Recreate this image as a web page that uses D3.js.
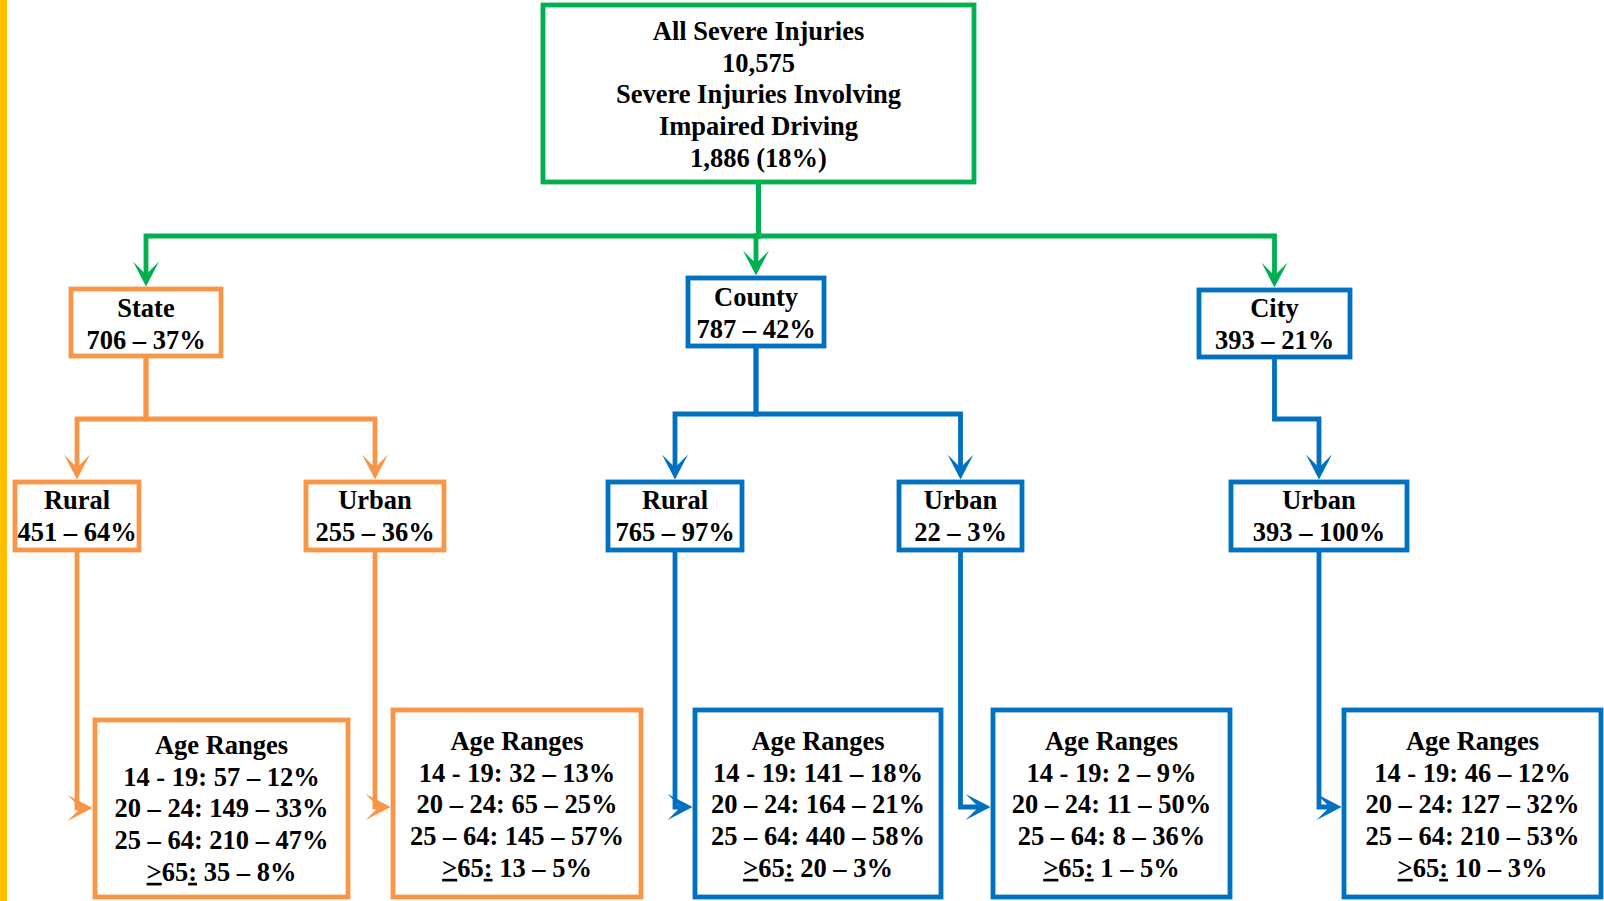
<!DOCTYPE html>
<html>
<head>
<meta charset="utf-8">
<script src="https://cdn.jsdelivr.net/npm/d3@7"></script>
<style>
  body { margin: 0; background: #fff; }
  svg { display: block; }
  text { font-family: "Liberation Serif", "Times New Roman", serif; font-weight: bold; font-size: 26.5px; fill: #000; }
</style>
</head>
<body>
<svg id="chart" width="1604" height="901"></svg>
<script>
// data
const topLines = ["All Severe Injuries", "10,575", "Severe Injuries Involving", "Impaired Driving", "1,886 (18%)"];
const jurisdictions = ["State", "County", "City"];
const jurisdictionCounts = [706, 787, 393];
const jurisdictionPcts = [37, 42, 21];
const areaParents = [0, 0, 1, 1, 2];
const areaNames = ["Rural", "Urban", "Rural", "Urban", "Urban"];
const areaCounts = [451, 255, 765, 22, 393];
const areaPcts = [64, 36, 97, 3, 100];
const ageTitle = "Age Ranges";
const ageRanges = ["14 - 19", "20 – 24", "25 – 64", ">65"];
const ageCounts = [[57, 149, 210, 35], [32, 65, 145, 13], [141, 164, 440, 20], [2, 11, 8, 1], [46, 127, 210, 10]];
const agePcts = [[12, 33, 47, 8], [13, 25, 57, 5], [18, 21, 58, 3], [9, 50, 36, 5], [12, 32, 53, 3]];

// styles
const green = "#00B050", orange = "#F79646", blue = "#0070C0";
const jurisdictionColors = [orange, blue, blue];
const stroke = 4.8;
const lineH = 31.7;

// layout (box edges, stroke centred)
const topBox = { x0: 543, x1: 974, y0: 5, y1: 182, textY: 40 };
const level1Boxes = [
  { x0: 71, x1: 221, y0: 289, y1: 356, textY: 317, splitY: 419 },
  { x0: 688, x1: 824, y0: 278, y1: 346, textY: 306, splitY: 414 },
  { x0: 1199, x1: 1350, y0: 290, y1: 357, textY: 317, splitY: 419 }
];
const topSplitY = 236;
const level2Boxes = [
  { x0: 15, x1: 139 }, { x0: 306, x1: 444 }, { x0: 608, x1: 742 },
  { x0: 899, x1: 1022 }, { x0: 1231, x1: 1407 }
].map(b => Object.assign(b, { y0: 482, y1: 550, textY: 509 }));
const ageBoxes = [
  { x0: 95, x1: 348, y0: 720, textY: 754, arrowY: 808 },
  { x0: 393, x1: 641, y0: 710, textY: 750, arrowY: 807 },
  { x0: 695, x1: 941, y0: 710, textY: 750, arrowY: 807 },
  { x0: 993, x1: 1230, y0: 710, textY: 750, arrowY: 807 },
  { x0: 1344, x1: 1601, y0: 710, textY: 750, arrowY: 807 }
].map(b => Object.assign(b, { y1: 897 }));

const cx = b => (b.x0 + b.x1) / 2;
const fmt = d3.format(",");
const line = d3.line();

const svg = d3.select("#chart");

// yellow edge strip
svg.append("rect").attr("x", 0).attr("y", 0).attr("width", 7).attr("height", 901).attr("fill", "#FFC000");

const linkG = svg.append("g").attr("fill", "none").attr("stroke-width", stroke).attr("stroke-linejoin", "miter");
const arrowG = svg.append("g");
const boxG = svg.append("g");

// arrowhead pointing down at (0,0)
const arrowPath = "M0,0 L-13,-25 L0,-12 L13,-25 Z";
function arrow(x, y, rot, color) {
  arrowG.append("path").attr("d", arrowPath).attr("fill", color)
    .attr("transform", `translate(${x},${y}) rotate(${rot})`);
}

function box(b, color) {
  boxG.append("rect")
    .attr("x", b.x0).attr("y", b.y0)
    .attr("width", b.x1 - b.x0).attr("height", b.y1 - b.y0)
    .attr("fill", "#fff").attr("stroke", color).attr("stroke-width", stroke);
}

function lines(b, arr) {
  boxG.append("g").selectAll("text").data(arr).join("text")
    .attr("x", cx(b)).attr("y", (d, i) => b.textY + i * lineH)
    .attr("text-anchor", "middle")
    .text(d => d);
}

// top box
box(topBox, green);
lines(topBox, topLines);

// top -> jurisdictions
level1Boxes.forEach((b, i) => {
  const tipY = b.y0 - stroke / 2;
  linkG.append("path").attr("stroke", green)
    .attr("d", line([[cx(topBox), topBox.y1], [cx(topBox), topSplitY], [cx(b), topSplitY], [cx(b), tipY - 8]]));
  arrow(cx(b), tipY, 0, green);
  box(b, jurisdictionColors[i]);
  lines(b, [jurisdictions[i], `${fmt(jurisdictionCounts[i])} – ${jurisdictionPcts[i]}%`]);
});

// jurisdictions -> rural/urban
level2Boxes.forEach((b, j) => {
  const p = level1Boxes[areaParents[j]];
  const color = jurisdictionColors[areaParents[j]];
  const tipY = b.y0 - stroke / 2;
  linkG.append("path").attr("stroke", color)
    .attr("d", line([[cx(p), p.y1], [cx(p), p.splitY], [cx(b), p.splitY], [cx(b), tipY - 8]]));
  arrow(cx(b), tipY, 0, color);
  box(b, color);
  lines(b, [areaNames[j], `${fmt(areaCounts[j])} – ${areaPcts[j]}%`]);
});

// rural/urban -> age ranges
ageBoxes.forEach((b, j) => {
  const src = level2Boxes[j];
  const color = jurisdictionColors[areaParents[j]];
  const tipX = b.x0 - stroke / 2;
  linkG.append("path").attr("stroke", color)
    .attr("d", line([[cx(src), src.y1], [cx(src), b.arrowY], [tipX - 8, b.arrowY]]));
  arrow(tipX, b.arrowY, -90, color);
  box(b, color);

  const g = boxG.append("g");
  g.append("text").attr("x", cx(b)).attr("y", b.textY).attr("text-anchor", "middle").text(ageTitle);
  ageRanges.forEach((r, k) => {
    const t = g.append("text").attr("x", cx(b)).attr("y", b.textY + (k + 1) * lineH).attr("text-anchor", "middle");
    const tail = ` ${fmt(ageCounts[j][k])} – ${agePcts[j][k]}%`;
    if (r.startsWith(">")) {
      t.append("tspan").attr("text-decoration", "underline").text(">");
      t.append("tspan").text(r.slice(1));
      t.append("tspan").attr("text-decoration", "underline").text(":");
      t.append("tspan").text(tail);
    } else {
      t.text(`${r}:${tail}`);
    }
  });
});
</script>
</body>
</html>
